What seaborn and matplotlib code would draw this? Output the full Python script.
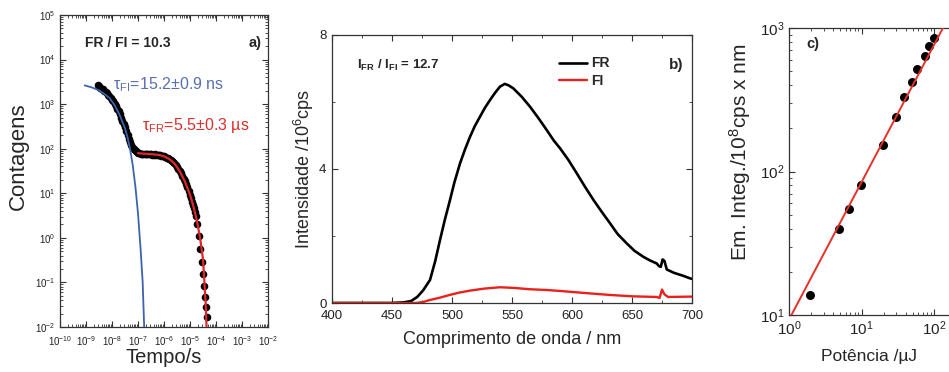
import numpy as np
import seaborn as sns
import matplotlib
matplotlib.use("Agg")
import matplotlib.pyplot as plt
from matplotlib.ticker import LogLocator, MultipleLocator, NullFormatter

# ---- panel a: luminescence decay (log10 values) ----
decay_logt = [-8.55, -8.50, -8.45, -8.40, -8.35, -8.30, -8.25, -8.20, -8.15, -8.10,
              -8.05, -8.00, -7.95, -7.90, -7.85, -7.80, -7.75, -7.70, -7.65, -7.60,
              -7.55, -7.50, -7.45, -7.40, -7.35, -7.30, -7.26, -7.22, -7.18, -7.15,
              -7.11, -7.08, -7.04, -7.00, -6.95, -6.90, -6.85, -6.80, -6.75, -6.70,
              -6.65, -6.60, -6.55, -6.50, -6.45, -6.40, -6.35, -6.30, -6.25, -6.20,
              -6.15, -6.10, -6.05, -6.00, -5.95, -5.90, -5.85, -5.80, -5.75, -5.70,
              -5.65, -5.60, -5.55, -5.50, -5.45, -5.40, -5.35, -5.30, -5.25, -5.20,
              -5.15, -5.10, -5.05, -5.00, -4.96, -4.92, -4.88, -4.85, -4.81, -4.78,
              -4.72, -4.66, -4.60, -4.55, -4.50, -4.46, -4.42, -4.38, -4.35]
decay_logc = [3.42, 3.40, 3.37, 3.35, 3.33, 3.30, 3.27, 3.24, 3.21, 3.18,
              3.14, 3.10, 3.06, 3.01, 2.96, 2.90, 2.84, 2.77, 2.70, 2.62,
              2.55, 2.48, 2.40, 2.31, 2.22, 2.14, 2.09, 2.04, 2.02, 2.00,
              1.97, 1.94, 1.92, 1.90, 1.90, 1.89, 1.88, 1.88, 1.89, 1.88,
              1.88, 1.89, 1.88, 1.88, 1.87, 1.87, 1.88, 1.87, 1.86, 1.86,
              1.85, 1.84, 1.84, 1.83, 1.82, 1.80, 1.79, 1.77, 1.74, 1.72,
              1.70, 1.67, 1.63, 1.59, 1.55, 1.50, 1.45, 1.39, 1.33, 1.27,
              1.20, 1.13, 1.05, 0.97, 0.89, 0.81, 0.73, 0.66, 0.57, 0.50,
              0.30, 0.05, -0.25, -0.55, -0.82, -1.08, -1.33, -1.55, -1.78]

fit_fi_logt = [-9.05, -8.80, -8.50, -8.30, -8.10, -7.90, -7.70, -7.50, -7.40, -7.30,
               -7.20, -7.10, -7.00, -6.90, -6.82, -6.76]
fit_fi_logc = [3.42, 3.38, 3.31, 3.23, 3.14, 2.98, 2.75, 2.46, 2.25, 1.98,
               1.62, 1.15, 0.55, -0.25, -1.00, -2.05]

fit_fr_logt = [-7.00, -6.80, -6.50, -6.20, -6.00, -5.80, -5.60, -5.40, -5.20, -5.00,
               -4.90, -4.80, -4.70, -4.60, -4.50, -4.45, -4.40, -4.36]
fit_fr_logc = [1.90, 1.89, 1.88, 1.86, 1.83, 1.77, 1.67, 1.50, 1.27, 0.97,
               0.77, 0.55, 0.28, -0.05, -0.48, -0.95, -1.45, -2.05]

# ---- panel b: emission spectra ----
wl_fr = [400, 450, 460, 466, 471, 476, 481.7, 486, 490, 494, 498.3, 502, 506.7, 511,
         515, 519, 523.3, 527.5, 531.7, 536, 540, 544, 547, 551, 558, 565, 572, 579,
         585, 590, 597, 604, 611, 618, 625, 631.7, 638, 645.6, 652, 659.4, 665, 670.6,
         672.5, 674, 675.5, 677, 679, 685, 692, 698, 700]
int_fr = [0.0, 0.0, 0.02, 0.06, 0.18, 0.38, 0.69, 1.25, 1.88, 2.48, 3.07, 3.60, 4.17, 4.60,
          4.96, 5.28, 5.56, 5.83, 6.06, 6.28, 6.46, 6.54, 6.50, 6.41, 6.16, 5.86, 5.52, 5.16,
          4.84, 4.62, 4.27, 3.87, 3.46, 3.07, 2.71, 2.38, 2.06, 1.78, 1.56, 1.38, 1.27, 1.18,
          1.10, 1.08, 1.30, 1.26, 1.00, 0.90, 0.82, 0.74, 0.72]

wl_fi = [400, 470, 476, 481.7, 490, 498, 506, 515, 527, 540, 552, 565, 578, 590, 610,
         631.7, 650, 670.6, 673, 675, 677, 680, 698, 700]
int_fi = [0.0, 0.0, 0.03, 0.09, 0.16, 0.24, 0.31, 0.37, 0.43, 0.47, 0.45, 0.41, 0.39, 0.36,
          0.30, 0.24, 0.20, 0.18, 0.15, 0.40, 0.26, 0.18, 0.19, 0.19]

# ---- panel c: integrated emission vs pump power ----
power = [1.97, 4.9, 6.7, 9.75, 19.8, 29.3, 38.6, 48.7, 57.1, 74.5, 85.3, 99.0]
emission = [13.8, 39.6, 55.2, 80.7, 153, 240, 333, 423, 517, 641, 753, 853]
fit_power = [1.08, 133]
fit_emission = [10, 1016]

sns.set_theme(style="ticks")
plt.rcParams['font.family'] = ['Liberation Sans', 'DejaVu Sans']
plt.rcParams['mathtext.fontset'] = 'custom'
plt.rcParams['mathtext.rm'] = 'Liberation Sans'
plt.rcParams['mathtext.it'] = 'Liberation Sans:italic'
plt.rcParams['mathtext.bf'] = 'Liberation Sans:bold'
plt.rcParams['axes.edgecolor'] = '#333333'
plt.rcParams['axes.linewidth'] = 0.9

W, H = 949, 372
fig = plt.figure(figsize=(W / 100, H / 100), dpi=100)


def box(l, r, t, b):
    return [l / W, (H - b) / H, (r - l) / W, (b - t) / H]


def style_ticks(ax, size, xpad=3.5, ypad=3.5):
    ax.tick_params(which='both', direction='in', top=True, right=True,
                   labelsize=size, colors='#333333', labelcolor='#222222')
    ax.tick_params(which='major', length=4, width=0.8)
    ax.tick_params(which='minor', length=2, width=0.6)
    ax.tick_params(axis='x', pad=xpad)
    ax.tick_params(axis='y', pad=ypad)


# =========================
# a) decay
# =========================
ax1 = fig.add_axes(box(60, 268, 15, 327))
ax1.set_xscale('log')
ax1.set_yscale('log')
sns.scatterplot(x=10 ** np.array(decay_logt), y=10 ** np.array(decay_logc), ax=ax1,
                color='black', s=30, linewidth=0, zorder=2)
sns.lineplot(x=10 ** np.array(fit_fi_logt), y=10 ** np.array(fit_fi_logc), ax=ax1,
             color='#3d62b0', lw=1.3, estimator=None, sort=False, zorder=3)
sns.lineplot(x=10 ** np.array(fit_fr_logt), y=10 ** np.array(fit_fr_logc), ax=ax1,
             color='#e0262a', lw=1.6, estimator=None, sort=False, zorder=3)
ax1.set_xlim(1e-10, 1e-2)
ax1.set_ylim(1e-2, 1e5)
ax1.xaxis.set_major_locator(LogLocator(base=10, numticks=20))
ax1.yaxis.set_major_locator(LogLocator(base=10, numticks=20))
ax1.xaxis.set_minor_locator(LogLocator(base=10, subs=np.arange(2, 10), numticks=20))
ax1.yaxis.set_minor_locator(LogLocator(base=10, subs=np.arange(2, 10), numticks=20))
ax1.xaxis.set_minor_formatter(NullFormatter())
ax1.yaxis.set_minor_formatter(NullFormatter())
style_ticks(ax1, 7, xpad=5, ypad=3)
ax1.set_xlabel('Tempo/s', fontsize=14.5)
ax1.set_ylabel('Contagens', fontsize=16)
ax1.xaxis.set_label_coords(0.5, -0.068)
ax1.yaxis.set_label_coords(-0.15, 0.548)
ax1.text(0.12, 0.91, 'FR / FI = 10.3', transform=ax1.transAxes, fontsize=10,
         weight='bold', va='center', ha='left')
ax1.text(0.97, 0.91, 'a)', transform=ax1.transAxes, fontsize=10.5,
         weight='bold', va='center', ha='right')
ax1.text(0.255, 0.776, r'τ$_{\mathrm{FI}}$=15.2±0.9 ns', transform=ax1.transAxes,
         fontsize=11.5, color='#5a6fae', va='center', ha='left')
ax1.text(0.394, 0.647, r'τ$_{\mathrm{FR}}$=5.5±0.3 µs', transform=ax1.transAxes,
         fontsize=11.5, color='#d8302c', va='center', ha='left')

# =========================
# b) spectra
# =========================
ax2 = fig.add_axes(box(332, 692, 35, 303))
sns.lineplot(x=wl_fr, y=int_fr, ax=ax2, color='black', lw=1.9,
             estimator=None, sort=False, label='FR')
sns.lineplot(x=wl_fi, y=int_fi, ax=ax2, color='#e8211d', lw=1.7,
             estimator=None, sort=False, label='FI')
ax2.set_xlim(400, 700)
ax2.set_ylim(0, 8)
ax2.xaxis.set_major_locator(MultipleLocator(50))
ax2.xaxis.set_minor_locator(MultipleLocator(25))
ax2.yaxis.set_major_locator(MultipleLocator(4))
ax2.yaxis.set_minor_locator(MultipleLocator(2))
style_ticks(ax2, 9.5, xpad=5, ypad=4)
ax2.set_xlabel('Comprimento de onda / nm', fontsize=13)
ax2.set_ylabel(r'Intensidade /10$^6$cps', fontsize=13)
ax2.xaxis.set_label_coords(0.5, -0.105)
ax2.yaxis.set_label_coords(-0.045, 0.5)
ax2.legend(loc='upper left', bbox_to_anchor=(0.63, 0.92), frameon=False,
           prop={'weight': 'bold', 'size': 10}, handlelength=2.0,
           handletextpad=0.3, labelspacing=0.25, borderpad=0, borderaxespad=0)
ax2.text(0.07, 0.888, r'I$_{\mathbf{FR}}$ / I$_{\mathbf{FI}}$ = 12.7', transform=ax2.transAxes,
         fontsize=9.5, weight='bold', va='center', ha='left')
ax2.text(0.975, 0.888, 'b)', transform=ax2.transAxes, fontsize=11,
         weight='bold', va='center', ha='right')

# =========================
# c) power dependence
# =========================
ax3 = fig.add_axes(box(789, 949, 28, 315))
ax3.set_xscale('log')
ax3.set_yscale('log')
sns.lineplot(x=fit_power, y=fit_emission, ax=ax3, color='#e8302a', lw=1.4,
             estimator=None, sort=False, zorder=3)
sns.scatterplot(x=power, y=emission, ax=ax3, color='black', s=42, linewidth=0, zorder=2)
ax3.set_xlim(1, 10 ** 2.2)
ax3.set_ylim(10, 1000)
ax3.xaxis.set_major_locator(LogLocator(base=10, numticks=10))
ax3.yaxis.set_major_locator(LogLocator(base=10, numticks=10))
ax3.xaxis.set_minor_locator(LogLocator(base=10, subs=np.arange(2, 10), numticks=10))
ax3.yaxis.set_minor_locator(LogLocator(base=10, subs=np.arange(2, 10), numticks=10))
ax3.xaxis.set_minor_formatter(NullFormatter())
ax3.yaxis.set_minor_formatter(NullFormatter())
style_ticks(ax3, 11)
ax3.spines['right'].set_visible(False)
ax3.tick_params(which='both', right=False)
ax3.set_xlabel('Potência /µJ', fontsize=12.5)
ax3.set_ylabel(r'Em. Integ./10$^8$cps x nm', fontsize=15)
ax3.xaxis.set_label_coords(0.5, -0.12)
ax3.yaxis.set_label_coords(-0.225, 0.568)
ax3.text(0.11, 0.945, 'c)', transform=ax3.transAxes, fontsize=10.5,
         weight='bold', va='center', ha='left')

fig.savefig('out.png', dpi=100)
